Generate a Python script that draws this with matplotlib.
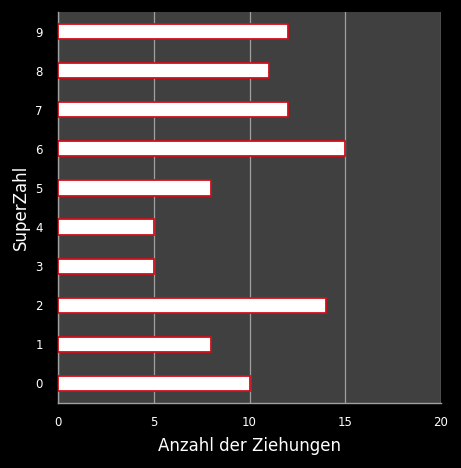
import matplotlib
matplotlib.use("Agg")
import matplotlib.pyplot as plt

categories = ["0", "1", "2", "3", "4", "5", "6", "7", "8", "9"]
counts = [10, 8, 14, 5, 5, 8, 15, 12, 11, 12]
x_ticks = [0, 5, 10, 15, 20]

fig = plt.figure(figsize=(4.61, 4.68), dpi=100, facecolor="black")
ax = fig.add_axes([58/461, 1-403/468, 383/461, 391/468])
ax.set_facecolor("#404040")

ypos = list(range(len(categories)))
ax.barh(ypos, counts, height=0.39, color="white", edgecolor="#d0101a", linewidth=1.3, zorder=3)

ax.set_xlim(0, 20)
ax.set_ylim(-0.5, 9.5)
ax.set_xticks(x_ticks)
ax.set_yticks(ypos)
ax.set_yticklabels(categories)
ax.xaxis.grid(True, color="#a0a0a0", linewidth=0.9, zorder=1)
ax.yaxis.grid(False)

for s in ["top", "right"]:
    ax.spines[s].set_visible(False)
for s in ["left", "bottom"]:
    ax.spines[s].set_color("#a0a0a0")
    ax.spines[s].set_linewidth(1.0)

ax.tick_params(axis="both", colors="white", labelsize=8.5, length=0)
ax.tick_params(axis="x", pad=9)
ax.tick_params(axis="y", pad=11)

ax.set_xlabel("Anzahl der Ziehungen", color="white", fontsize=12, labelpad=6)
ax.set_ylabel("SuperZahl", color="white", fontsize=12)
ax.yaxis.set_label_coords(-28/383, 0.5)

fig.savefig("out.png", dpi=100, facecolor="black")
